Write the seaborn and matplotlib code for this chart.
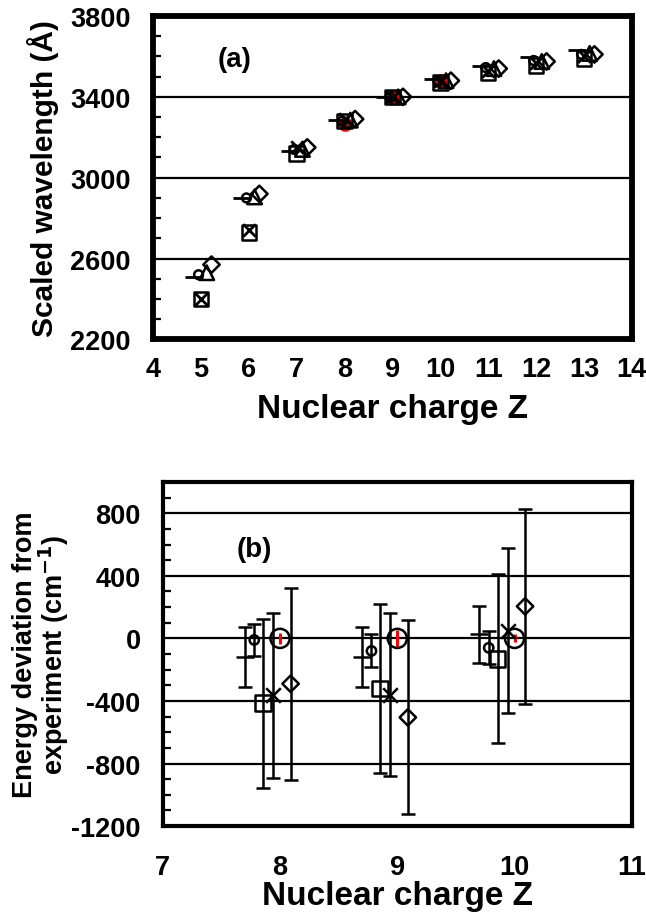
import numpy as np
import seaborn as sns
import matplotlib.pyplot as plt
from matplotlib.ticker import MultipleLocator


# Panel (a): scaled wavelength vs nuclear charge, one list per method.
z_a = [5, 6, 7, 8, 9, 10, 11, 12, 13]
wl_dash = [2510, 2900, 3130, 3285, 3400, 3490, 3555, 3595, 3630]
wl_circle = [2520, 2900, 3140, 3280, 3400, 3480, 3545, 3580, 3610]
wl_triangle = [2530, 2905, 3140, 3285, 3400, 3480, 3540, 3575, 3615]
wl_diamond = [2570, 2920, 3150, 3290, 3400, 3480, 3540, 3575, 3610]
wl_square = [2400, 2730, 3120, 3280, 3400, 3470, 3520, 3555, 3590]
wl_cross = [2400, 2740, 3150, 3290, 3400, 3480, 3530, 3570, 3600]
z_a_expt = [8, 9, 10]
wl_expt = [3265, 3400, 3480]
wl_ticks = [2200, 2600, 3000, 3400, 3800]

# Panel (b): energy deviation from experiment, with error bars.
z_b = [8, 9, 10]
dev_dash = [-120, -120, 25]
err_dash = [190, 190, 180]
dev_circle = [-10, -80, -60]
err_circle = [105, 105, 105]
dev_square = [-415, -320, -130]
err_square = [540, 540, 540]
dev_cross = [-365, -360, 50]
err_cross = [525, 520, 525]
dev_expt = [0, 0, 0]
err_expt = [35, 55, 25]
dev_diamond = [-290, -505, 205]
err_diamond = [615, 620, 625]

sns.set_style("white", {'text.color': 'black', 'axes.labelcolor': 'black',
                        'xtick.color': 'black', 'ytick.color': 'black'})
plt.rcParams['font.family'] = ['Liberation Sans', 'DejaVu Sans']
plt.rcParams['font.weight'] = 'bold'
plt.rcParams['axes.labelweight'] = 'bold'
plt.rcParams['axes.unicode_minus'] = False

fig = plt.figure(figsize=(6.46, 9.2), dpi=100)
ax_a = fig.add_axes([0.237, 0.630, 0.741, 0.3515])
ax_b = fig.add_axes([0.252, 0.101, 0.726, 0.374])


def open_marker(ax, x, y, marker, size, lw=1.8, dx=0.0, color='black', fill='none'):
    xs = np.asarray(x, dtype=float) + dx
    if marker in ('x', '_', '+', '|'):
        sns.scatterplot(x=xs, y=y, marker=marker, s=size, color=color,
                        linewidth=lw, ax=ax, zorder=4)
    else:
        sns.scatterplot(x=xs, y=y, marker=marker, s=size, color=color,
                        facecolor=fill, edgecolor=color, linewidth=lw,
                        ax=ax, zorder=4)


def style_axes(ax, spine_w):
    for s in ax.spines.values():
        s.set_linewidth(spine_w)
        s.set_color('black')
    ax.grid(axis='y', color='black', linewidth=1.6)
    ax.grid(axis='x', visible=False)
    ax.set_axisbelow(True)
    ax.tick_params(axis='both', which='both', direction='in', colors='black',
                   labelsize=19.5, width=1.6)
    ax.tick_params(axis='y', which='major', length=7, pad=16)
    ax.tick_params(axis='y', which='minor', length=6, width=1.6, left=True)
    ax.tick_params(axis='x', which='major', length=9)
    for lab in ax.get_xticklabels() + ax.get_yticklabels():
        lab.set_fontweight('bold')


# ---- panel (a)
open_marker(ax_a, z_a_expt, wl_expt, 'o', 110, lw=0, color='red', fill='red')
open_marker(ax_a, z_a, wl_dash, '_', 160, lw=2.0, dx=-0.15)
open_marker(ax_a, z_a, wl_circle, 'o', 40, dx=-0.05)
open_marker(ax_a, z_a, wl_triangle, '^', 110, dx=0.12)
open_marker(ax_a, z_a, wl_diamond, 'D', 70, dx=0.22)
open_marker(ax_a, z_a, wl_square, 's', 110)
open_marker(ax_a, z_a, wl_cross, 'x', 80, lw=2.0)

ax_a.set_xlim(4, 14)
ax_a.set_ylim(2200, 3800)
ax_a.xaxis.set_major_locator(MultipleLocator(1))
ax_a.set_yticks(wl_ticks)
ax_a.yaxis.set_minor_locator(MultipleLocator(100))
style_axes(ax_a, 4.2)
ax_a.tick_params(axis='x', pad=12)
ax_a.set_xlabel("Nuclear charge Z", fontsize=24, fontweight='bold', labelpad=8)
ax_a.set_ylabel("Scaled wavelength (Å)", fontsize=21.5, fontweight='bold', labelpad=8)
ax_a.text(0.171, 0.867, "(a)", transform=ax_a.transAxes, fontsize=20,
          fontweight='bold', ha='center', va='center')

# ---- panel (b)
series_b = [
    (dev_dash, err_dash, '_', 150, -0.30),
    (dev_circle, err_circle, 'o', 45, -0.22),
    (dev_square, err_square, 's', 130, -0.145),
    (dev_cross, err_cross, 'x', 110, -0.06),
    (dev_diamond, err_diamond, 'D', 70, 0.09),
]
for dev, err, mk, size, dx in series_b:
    xs = np.asarray(z_b, dtype=float) + dx
    ax_b.errorbar(xs, dev, yerr=err, fmt='none', ecolor='black',
                  elinewidth=1.8, capsize=5, capthick=1.8, zorder=3)
    open_marker(ax_b, z_b, dev, mk, size, lw=1.8, dx=dx)

ax_b.errorbar(z_b, dev_expt, yerr=err_expt, fmt='none', ecolor='red',
              elinewidth=2.2, capsize=0, zorder=3)
open_marker(ax_b, z_b, dev_expt, 'o', 190, lw=1.8)

ax_b.set_xlim(7, 11)
ax_b.set_ylim(-1200, 1000)
ax_b.xaxis.set_major_locator(MultipleLocator(1))
ax_b.yaxis.set_major_locator(MultipleLocator(400))
ax_b.yaxis.set_minor_locator(MultipleLocator(100))
style_axes(ax_b, 3.0)
ax_b.tick_params(axis='x', pad=20)
ax_b.set_xlabel("Nuclear charge Z", fontsize=24, fontweight='bold', labelpad=0)
ax_b.set_ylabel("Energy deviation from\nexperiment (cm$^{\\mathbf{-1}}$)",
                fontsize=19.5, fontweight='bold', labelpad=0, linespacing=0.95)
ax_b.text(0.196, 0.805, "(b)", transform=ax_b.transAxes, fontsize=20,
          fontweight='bold', ha='center', va='center')

fig.savefig("out.png", dpi=100)
